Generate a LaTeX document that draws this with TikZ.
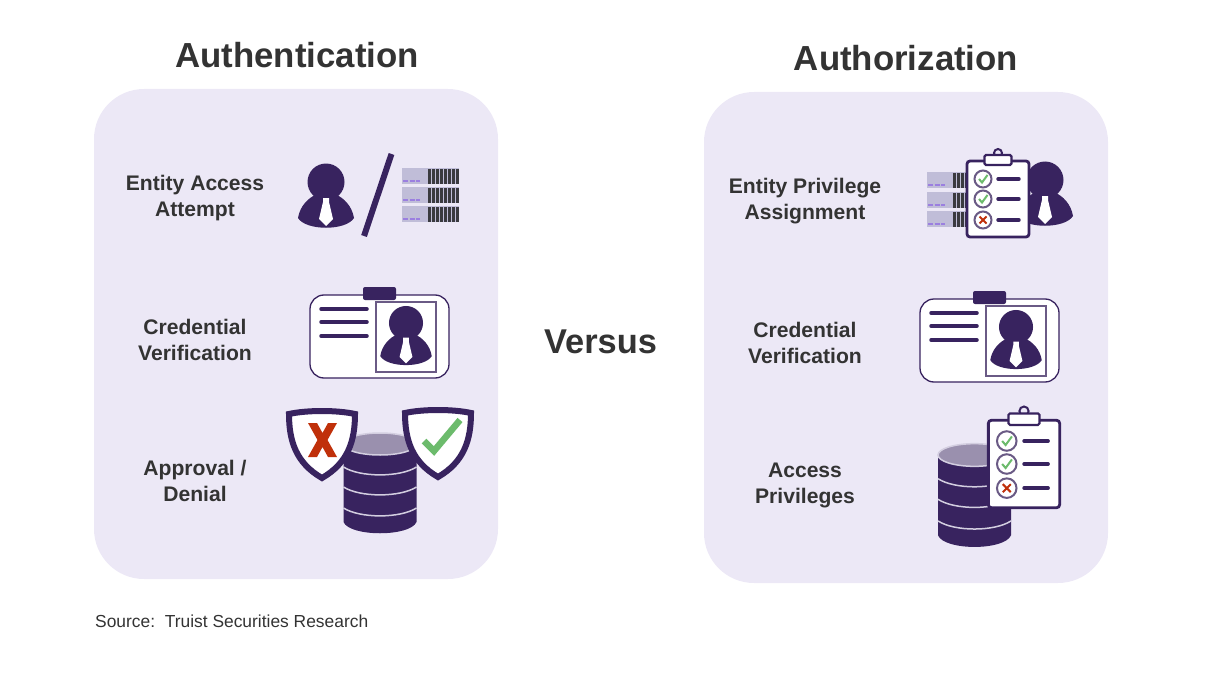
\documentclass[tikz,border=0pt]{standalone}
\usepackage{fontspec}
\setmainfont{Liberation Sans}

\definecolor{panelfill}{HTML}{ECE8F6}
\definecolor{iconpurple}{HTML}{38235F}
\definecolor{framepurple}{HTML}{6A5A85}
\definecolor{dbtop}{HTML}{9A90AE}
\definecolor{rackgrey}{HTML}{C0BDD8}
\definecolor{rackdash}{HTML}{9B7FE0}
\definecolor{rackbar}{HTML}{3A3A3F}
\definecolor{denyred}{HTML}{C0300A}
\definecolor{allowgreen}{HTML}{6CBB6C}
\definecolor{labelgrey}{HTML}{333333}

\tikzset{
	panel/.style = {fill=panelfill, rounded corners=50},
	title/.style = {font=\fontsize{34.8}{40}\selectfont\bfseries, text=labelgrey},
	itemlabel/.style = {font=\fontsize{21.1}{26}\selectfont\bfseries, text=labelgrey, align=center},
	pics/person/.style = {code = {
		\fill[iconpurple] (0,0) circle (18.5);
		\fill[iconpurple] (-28,36) .. controls (-26,24) and (-18,16) .. (-9,12) -- (9,12)
			.. controls (18,16) and (26,24) .. (28,36)
			.. controls (20,49) and (-20,49) .. (-28,36) -- cycle;
		\fill[white] (-3,16) -- (3,16) -- (3,20) -- (7,37) -- (0,44) -- (-7,37) -- (-3,20) -- cycle;
	}},
	pics/serverrow/.style = {code = {
		\fill[rackgrey] (0,0) rectangle ({25+4*#1},16);
		\foreach \i in {1,...,#1} {
			\fill[rackbar] ({25.5+4*(\i-1)},0.5) rectangle ({28.5+4*(\i-1)},15.5);
		}
		\draw[rackdash, line width=2, dash pattern=on 5 off 1.5] (1,13) -- (18,13);
	}},
	pics/idcard/.style = {code = {
		\draw[iconpurple, fill=white, line width=1.3, rounded corners=14] (0,0) rectangle (139,83);
		\fill[iconpurple, rounded corners=2] (53,-8) rectangle (86,5);
		\draw[framepurple, line width=1.5] (66,7) rectangle (126,77);
		\foreach \y in {14,27,41} {
			\draw[iconpurple, line width=3.5, line cap=round] (11,\y) -- (57,\y);
		}
		\pic[scale=0.92] at (96,28) {person};
	}},
	pics/dbstack/.style = {code = {
		\fill[iconpurple] (-36.5,0) -- (-36.5,78) .. controls (-30,93) and (30,93) .. (36.5,78) -- (36.5,0) -- cycle;
		\draw[panelfill!70!dbtop, line width=1.5, fill=dbtop] (0,0) ellipse (36.5 and 11);
		\foreach \y in {23,43,64} {
			\draw[panelfill!70!dbtop, line width=1.5] (-36.5,\y) .. controls (-20,\y+10.5) and (20,\y+10.5) .. (36.5,\y);
		}
	}},
	pics/shield/.style = {code = {
		\draw[iconpurple, fill=white, line width=6, miter limit=4] (-33,-31)
			.. controls (-15,-35) and (15,-35) .. (33,-31)
			.. controls (33,-4) and (26,18) .. (0,33)
			.. controls (-26,18) and (-33,-4) .. (-33,-31) -- cycle;
	}},
	pics/clipboard/.style = {code = {
		\draw[iconpurple, line width=2] (0,-46) circle (4);
		\draw[iconpurple, fill=white, line width=2.8, rounded corners=3] (-31,-38) rectangle (31,38);
		\draw[iconpurple, fill=white, line width=2.2, rounded corners=1.5] (-13.5,-44) rectangle (13.5,-34);
		\foreach \y in {-20,0,21} {
			\draw[framepurple, fill=white, line width=2] (-15,\y) circle (8.5);
			\draw[iconpurple, line width=3.4, line cap=round] (0,\y) -- (21,\y);
		}
		\foreach \y in {-20,0} {
			\draw[allowgreen, line width=2] (-19,\y) -- (-16,\y+3.5) -- (-10.5,\y-4);
		}
		\draw[denyred, line width=2] (-18.5,17.5) -- (-11.5,24.5) (-11.5,17.5) -- (-18.5,24.5);
	}}
}

\begin{document}
\begin{tikzpicture}[
	x = 1pt, % one unit is one reference pixel
	y = -1pt
	]
	
	\useasboundingbox (0,0) rectangle (1210,674);
	
	% the two panels
	\fill[panel] (94,89) rectangle (498,579);
	\fill[panel] (704,92) rectangle (1108,583);
	
	\node[title] (authn) at (297,55) {Authentication};
	\node[title] (authz) at (906,58) {Authorization};
	\node[title, font=\fontsize{34.4}{40}\selectfont\bfseries] (versus) at (600.5,342) {Versus};
	
	\node[itemlabel] (attempt) at (195,198) {Entity Access\\Attempt};
	\node[itemlabel] (credA) at (195,340) {Credential\\Verification};
	\node[itemlabel] (approval) at (195,481) {Approval /\\Denial};
	\node[itemlabel] (assign) at (805,201) {Entity Privilege\\Assignment};
	\node[itemlabel] (credB) at (805,343) {Credential\\Verification};
	\node[itemlabel] (privs) at (805,485) {Access\\Privileges};
	
	\node[anchor=west, inner sep=0pt, text=labelgrey, font=\fontsize{17.4}{20}\selectfont] (source) at (95,621) {Source:\ \ Truist Securities Research};
	
	% left panel icons
	\pic (userA) at (326,182) {person};
	\draw[iconpurple, line width=6] (391.5,154) -- (364,236);
	\pic (rackA) at (402,168) {serverrow=8};
	\pic (rackB) at (402,187) {serverrow=8};
	\pic (rackC) at (402,206) {serverrow=8};
	\pic (cardA) at (310,295) {idcard};
	\pic (dbA) at (380,444) {dbstack};
	\pic (shieldA) at (322,445) {shield};
	\pic (shieldB) at (438,444) {shield};
	\fill[denyred] (308,423) -- (317,423) -- (322.5,433) -- (328,423) -- (337,423) -- (327.5,440) -- (337,457)
		-- (328,457) -- (322.5,447) -- (317,457) -- (308,457) -- (317.5,440) -- cycle;
	\draw[allowgreen, line width=6.5] (424,441) -- (434,451) -- (460,420);
	
	% right panel icons
	\pic (rackD) at (927,172) {serverrow=4};
	\pic (rackE) at (927,192) {serverrow=4};
	\pic (rackF) at (927,211) {serverrow=4};
	\pic (userB) at (1045,180) {person};
	\pic (listA) at (998,199) {clipboard};
	\pic (cardB) at (920,299) {idcard};
	\pic[yscale=1.03] (dbB) at (974.5,455) {dbstack};
	\pic[scale=1.15] (listB) at (1024,464) {clipboard};
	
\end{tikzpicture}
\end{document}
